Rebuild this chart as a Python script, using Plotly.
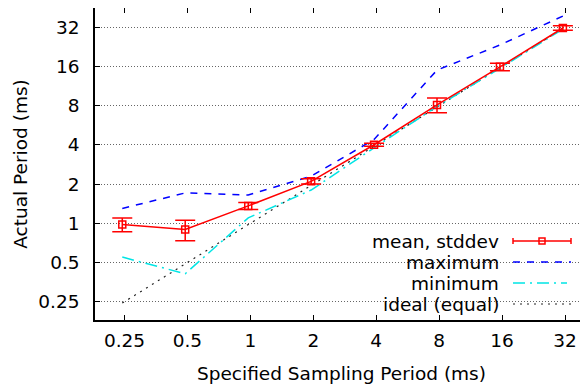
import plotly.graph_objects as go

# ---- data ----
tick_vals = [0.25, 0.5, 1, 2, 4, 8, 16, 32]
tick_text = ["0.25", "0.5", "1", "2", "4", "8", "16", "32"]
specified = [0.244, 0.488, 0.977, 1.953, 3.906, 7.813, 15.625, 31.25]
mean_vals = [0.98, 0.895, 1.36, 2.10, 4.01, 8.1, 15.9, 31.6]
std_vals = [0.12, 0.16, 0.085, 0.095, 0.11, 1.05, 1.05, 1.3]
max_vals = [1.30, 1.71, 1.65, 2.30, 4.40, 15.0, 23.4, 39.0]
min_vals = [0.55, 0.41, 1.10, 1.80, 3.80, 7.9, 15.5, 31.0]
ideal_vals = specified

legend_labels = ["mean, stddev", "maximum", "minimum", "ideal (equal)"]

FONT = "DejaVu Sans"
FS = 18.5

# page offset (default body margin of the html page)
OFF = 8
FIG_W, FIG_H = 588 - OFF, 385 - OFF

BLUE_DASH = "7px,7px"
CYAN_DASH = "12px,5px,2px,5px"
IDEAL_DASH = "2px,5px"

fig = go.Figure()
fig.add_trace(go.Scatter(x=specified, y=ideal_vals, mode="lines",
                         line=dict(color="#222222", width=1.2, dash=IDEAL_DASH),
                         showlegend=False))
fig.add_trace(go.Scatter(x=specified, y=min_vals, mode="lines",
                         line=dict(color="#00e5e5", width=1.5, dash=CYAN_DASH),
                         showlegend=False))
fig.add_trace(go.Scatter(x=specified, y=max_vals, mode="lines",
                         line=dict(color="#0000ff", width=1.5, dash=BLUE_DASH),
                         showlegend=False))
fig.add_trace(go.Scatter(x=specified, y=mean_vals, mode="lines+markers",
                         line=dict(color="#ff0000", width=1.5),
                         marker=dict(symbol="square-open", size=7, color="#ff0000",
                                     line=dict(width=1.5, color="#ff0000")),
                         error_y=dict(type="data", array=std_vals, visible=True,
                                      color="#ff0000", thickness=1.5, width=10),
                         showlegend=False))

# plot-area geometry in page pixels
L, T, B, R = 95, 8, 320, 588
W, H = R - L, B - T


def px(x):
    return (x - L) / W


def py(y):
    return (B - y) / H


shapes = []
shapes.append(dict(type="rect", xref="paper", yref="paper", x0=px(335), x1=px(583),
                   y0=py(318), y1=py(229), fillcolor="white", line=dict(width=0),
                   layer="between"))
ys = [241, 262, 283, 304]
shapes.append(dict(type="line", xref="paper", yref="paper", x0=px(513), x1=px(571),
                   y0=py(ys[0]), y1=py(ys[0]), line=dict(color="#ff0000", width=1.5)))
for xc in (513, 571):
    shapes.append(dict(type="line", xref="paper", yref="paper", x0=px(xc), x1=px(xc),
                       y0=py(ys[0] - 3), y1=py(ys[0] + 3), line=dict(color="#ff0000", width=1.5)))
shapes.append(dict(type="rect", xref="paper", yref="paper", x0=px(539), x1=px(545),
                   y0=py(ys[0] + 3), y1=py(ys[0] - 3), line=dict(color="#ff0000", width=1.5),
                   fillcolor="rgba(0,0,0,0)"))
shapes.append(dict(type="line", xref="paper", yref="paper", x0=px(513), x1=px(571),
                   y0=py(ys[1]), y1=py(ys[1]), line=dict(color="#0000ff", width=1.5, dash=BLUE_DASH)))
shapes.append(dict(type="line", xref="paper", yref="paper", x0=px(513), x1=px(567),
                   y0=py(ys[2]), y1=py(ys[2]), line=dict(color="#00e5e5", width=1.5, dash=CYAN_DASH)))
shapes.append(dict(type="line", xref="paper", yref="paper", x0=px(513), x1=px(571),
                   y0=py(ys[3]), y1=py(ys[3]), line=dict(color="#222222", width=1.2, dash=IDEAL_DASH)))
annotations = []
for lab, yy in zip(legend_labels, ys):
    annotations.append(dict(text=lab, xref="paper", yref="paper", x=px(501), y=py(yy),
                            xanchor="right", yanchor="middle", showarrow=False,
                            font=dict(family=FONT, size=FS, color="black")))

l2 = 0.30103
fig.update_layout(
    width=FIG_W, height=FIG_H,
    margin=dict(l=L - OFF, r=0, t=T - OFF, b=385 - B, pad=0),
    paper_bgcolor="white", plot_bgcolor="white",
    font=dict(family=FONT, size=FS, color="black"),
    shapes=shapes, annotations=annotations,
    showlegend=False,
)
fig.update_xaxes(type="log", range=[-2.4685 * l2, 5.365 * l2], automargin=False,
                 tickvals=tick_vals, ticktext=tick_text,
                 showline=True, linecolor="black", linewidth=1.5, mirror="ticks",
                 ticks="inside", ticklen=5, tickcolor="black", tickwidth=1,
                 showgrid=False, zeroline=False, ticklabelstandoff=3,
                 title=dict(text="Specified Sampling Period (ms)", standoff=17,
                            font=dict(family=FONT, size=FS)))
fig.update_yaxes(type="log", range=[-2.467 * l2, 5.492 * l2], automargin=False,
                 tickvals=tick_vals, ticktext=tick_text,
                 showline=True, linecolor="black", linewidth=1.5, mirror=False,
                 ticks="inside", ticklen=5, tickcolor="black", tickwidth=1,
                 showgrid=True, gridcolor="#666666", griddash="1px,2px", gridwidth=1,
                 zeroline=False, ticklabelstandoff=10,
                 title=dict(text="Actual Period (ms)", standoff=6,
                            font=dict(family=FONT, size=FS)))

fig.write_html("out.html")
